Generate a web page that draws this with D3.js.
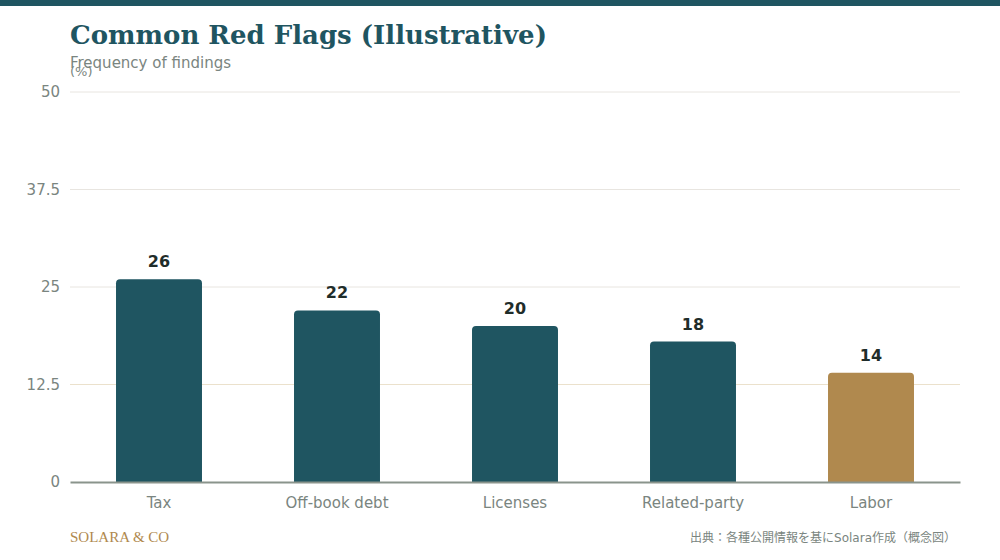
<!DOCTYPE html>
<html>
<head>
<meta charset="utf-8">
<script src="https://cdn.jsdelivr.net/npm/d3@7"></script>
<style>
  body { margin: 0; background: #fff; }
  svg { display: block; }
  text { font-family: "DejaVu Sans", "Noto Sans CJK JP", sans-serif; }
</style>
</head>
<body>
<svg id="chart" width="1000" height="560"></svg>
<script>
// chart data
const categories = ["Tax", "Off-book debt", "Licenses", "Related-party", "Labor"];
const values = [26, 22, 20, 18, 14];
const highlight = ["Labor"];
const yTicks = [0, 12.5, 25, 37.5, 50];

const W = 1000, H = 560;
const margin = { top: 92, right: 40, bottom: 78, left: 70 };
const teal = "#1f5561", gold = "#b0894e", grey = "#7a8580";
const sans = "DejaVu Sans, Noto Sans CJK JP, sans-serif";

const svg = d3.select("#chart");

// top strip
svg.append("rect").attr("x", 0).attr("y", 0).attr("width", W).attr("height", 6).attr("fill", teal);

const x = d3.scaleBand()
    .domain(categories)
    .range([margin.left, W - margin.right])
    .paddingInner(0.517)
    .paddingOuter(0.2585);

const y = d3.scaleLinear()
    .domain([0, 50])
    .range([H - margin.bottom, margin.top]);

// grid
svg.append("g")
    .selectAll("line")
    .data(yTicks.filter(d => d > 0))
    .enter()
    .append("line")
    .attr("x1", margin.left)
    .attr("x2", W - margin.right)
    .attr("y1", d => y(d))
    .attr("y2", d => y(d))
    .attr("stroke", d => d === 12.5 ? "#ebe1cc" : "#e8e5e0")
    .attr("stroke-width", 1);

// y axis labels
const yAxis = svg.append("g")
    .attr("transform", `translate(${margin.left},0)`)
    .call(d3.axisLeft(y).tickValues(yTicks).tickSize(0).tickPadding(10).tickFormat(d => d))
    .attr("font-family", sans)
    .attr("font-size", 15);
yAxis.select(".domain").remove();
yAxis.selectAll("text").attr("fill", grey);

// bars
svg.append("g")
    .selectAll("path")
    .data(categories)
    .enter()
    .append("path")
    .attr("d", (d, i) => {
        const x0 = x(d), w = x.bandwidth(), y0 = y(values[i]), y1 = y(0), r = 4;
        return `M${x0},${y1} V${y0 + r} Q${x0},${y0} ${x0 + r},${y0} H${x0 + w - r} Q${x0 + w},${y0} ${x0 + w},${y0 + r} V${y1} Z`;
    })
    .attr("fill", d => highlight.includes(d) ? gold : teal);

// value labels
svg.append("g")
    .selectAll("text")
    .data(categories)
    .enter()
    .append("text")
    .attr("x", d => x(d) + x.bandwidth() / 2)
    .attr("y", (d, i) => y(values[i]) - 12)
    .attr("text-anchor", "middle")
    .attr("fill", "#1f2d2a")
    .attr("font-size", 16)
    .attr("font-weight", "bold")
    .text((d, i) => values[i]);

// x axis
const xAxis = svg.append("g")
    .attr("transform", `translate(0,${y(0)})`)
    .call(d3.axisBottom(x).tickSize(0).tickPadding(15))
    .attr("font-family", sans)
    .attr("font-size", 15);
xAxis.select(".domain")
    .attr("stroke", "#8a948c")
    .attr("stroke-width", 2);
xAxis.selectAll("text").attr("fill", grey);

// titles
svg.append("text")
    .attr("x", 70).attr("y", 44)
    .attr("fill", teal)
    .style("font-family", "'DejaVu Serif', serif")
    .attr("font-size", 26)
    .attr("font-weight", "bold")
    .text("Common Red Flags (Illustrative)");

svg.append("text")
    .attr("x", 70).attr("y", 68)
    .attr("fill", grey)
    .attr("font-size", 15)
    .text("Frequency of findings");

svg.append("text")
    .attr("x", 70).attr("y", 76)
    .attr("fill", grey)
    .attr("font-size", 13)
    .text("(%)");

// footer
svg.append("text")
    .attr("x", 70).attr("y", 542)
    .attr("fill", gold)
    .style("font-family", "'Liberation Serif', serif")
    .attr("font-size", 15)
    .text("SOLARA & CO");

svg.append("text")
    .attr("x", 956).attr("y", 542)
    .attr("text-anchor", "end")
    .attr("fill", grey)
    .attr("font-size", 12)
    .text("出典：各種公開情報を基にSolara作成（概念図）");
</script>
</body>
</html>
